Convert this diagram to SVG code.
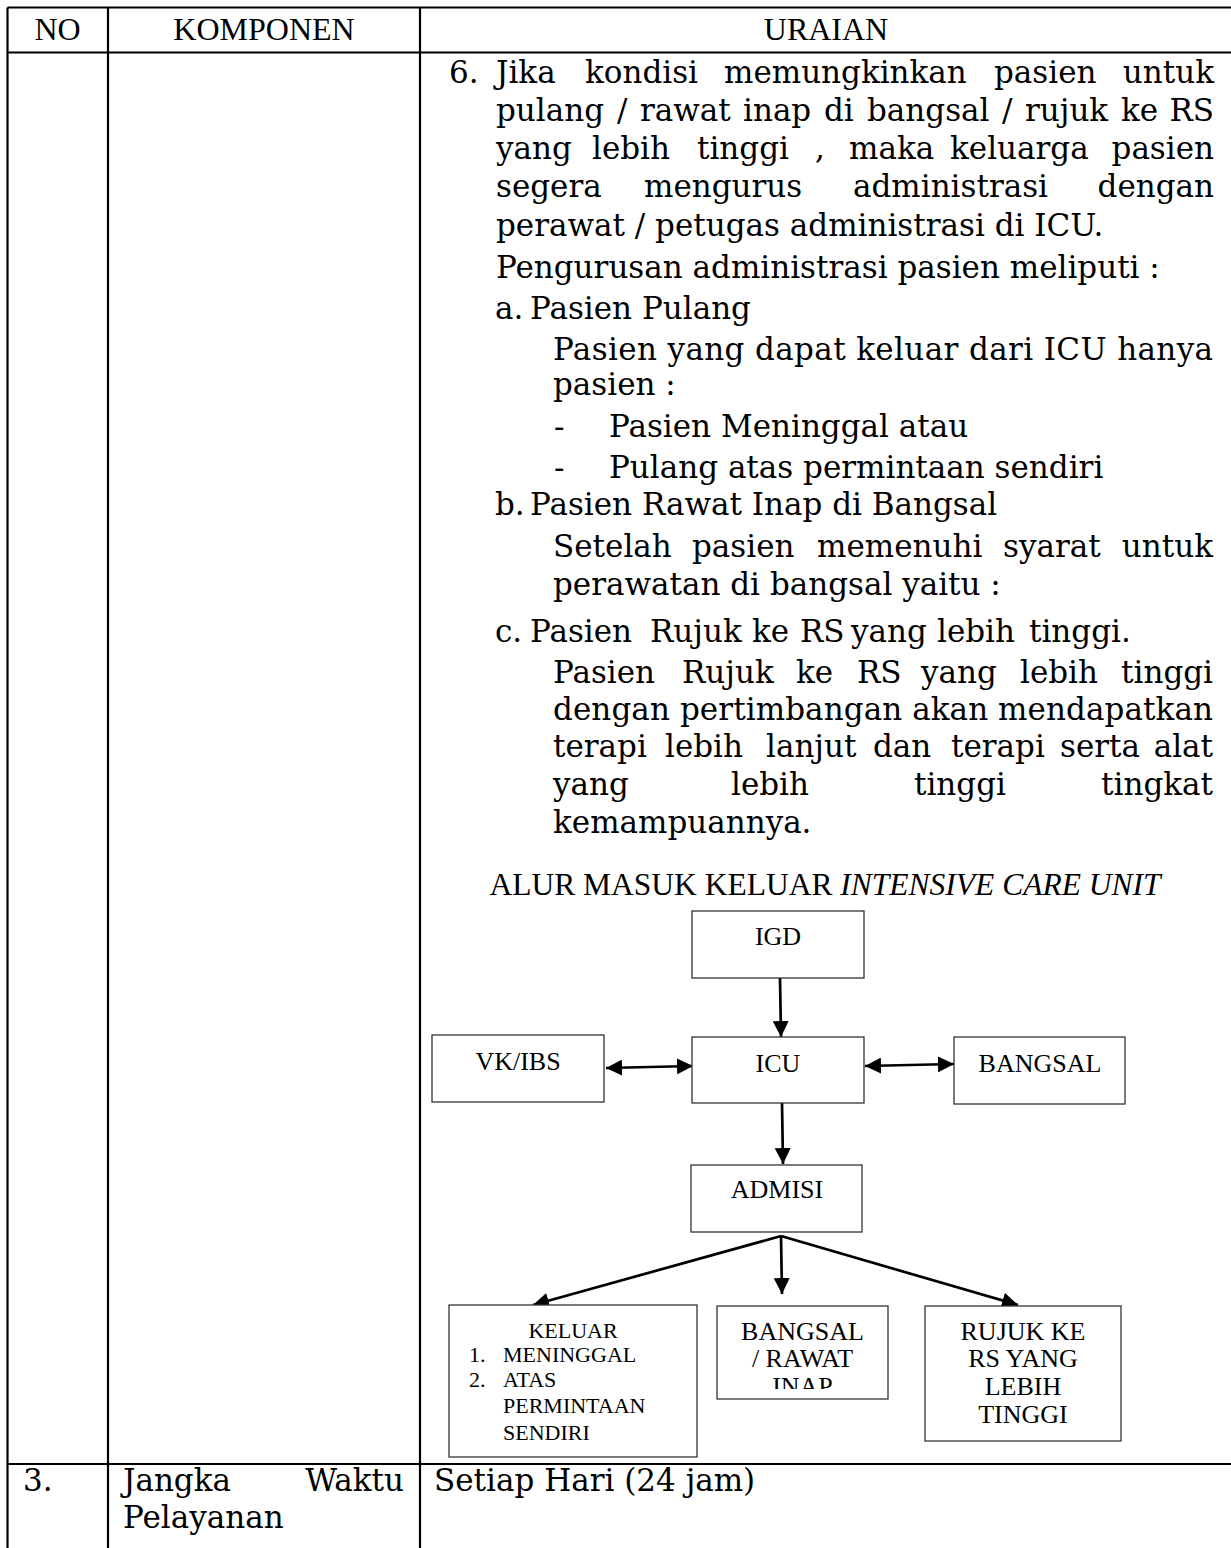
<svg xmlns="http://www.w3.org/2000/svg" width="1231" height="1548" viewBox="0 0 1231 1548">
<style>
.b{font-family:"DejaVu Serif","Liberation Serif",serif;font-size:31px;fill:#000}
.hd{font-family:"Liberation Serif",serif;font-size:32px;fill:#000;text-anchor:middle}
.tt{font-family:"Liberation Serif",serif;font-size:31.5px;fill:#000;text-anchor:middle}
.lbl{font-family:"Liberation Serif",serif;font-size:26px;fill:#000;text-anchor:middle}
.sm{font-family:"Liberation Serif",serif;font-size:22px;fill:#000}
.e{text-anchor:end}
.grid{stroke:#000;stroke-width:2.2;fill:none}
.box{fill:#fff;stroke:#333;stroke-width:1.3}
.conn{stroke:#000;stroke-width:2.7;fill:none}
</style>
<defs>
<marker id="ah" viewBox="0 0 16 16" refX="16" refY="8" markerWidth="16" markerHeight="16" markerUnits="userSpaceOnUse" orient="auto-start-reverse">
<path d="M0,0 L16,8 L0,16 z" fill="#000"/>
</marker>
<clipPath id="inapclip"><rect x="717" y="1306" width="171" height="83"/></clipPath>
</defs>
<rect width="1231" height="1548" fill="#fff"/>

<g id="table">
<line class="grid" x1="7.5" y1="7.5" x2="1231" y2="7.5"/>
<line class="grid" x1="7.5" y1="52.5" x2="1231" y2="52.5"/>
<line class="grid" x1="7.5" y1="1464" x2="1231" y2="1464"/>
<line class="grid" x1="7.5" y1="7.5" x2="7.5" y2="1548"/>
<line class="grid" x1="108" y1="7.5" x2="108" y2="1548"/>
<line class="grid" x1="420" y1="7.5" x2="420" y2="1548"/>
<text class="hd" x="57.5" y="40">NO</text>
<text class="hd" x="264" y="40">KOMPONEN</text>
<text class="hd" x="826" y="40">URAIAN</text>
</g>

<g id="uraian">
<text class="b" x="449" y="83">6.</text>
<text class="b" x="496" y="83">Jika</text>
<text class="b" x="585" y="83">kondisi</text>
<text class="b" x="724" y="83">memungkinkan</text>
<text class="b" x="994" y="83">pasien</text>
<text class="b e" x="1214" y="83">untuk</text>

<text class="b" x="496" y="121">pulang</text>
<text class="b" x="617" y="121">/</text>
<text class="b" x="640" y="121">rawat</text>
<text class="b" x="743" y="121">inap</text>
<text class="b" x="824" y="121">di</text>
<text class="b" x="867" y="121">bangsal</text>
<text class="b" x="1002" y="121">/</text>
<text class="b" x="1025" y="121">rujuk</text>
<text class="b" x="1121" y="121">ke</text>
<text class="b e" x="1214" y="121">RS</text>

<text class="b" x="496" y="159">yang</text>
<text class="b" x="592" y="159">lebih</text>
<text class="b" x="697" y="159">tinggi</text>
<text class="b" x="815" y="159">,</text>
<text class="b" x="849" y="159">maka</text>
<text class="b" x="950" y="159">keluarga</text>
<text class="b e" x="1214" y="159">pasien</text>

<text class="b" x="496" y="197">segera</text>
<text class="b" x="644" y="197">mengurus</text>
<text class="b" x="853" y="197">administrasi</text>
<text class="b e" x="1214" y="197">dengan</text>

<text class="b" x="496" y="236">perawat / petugas administrasi di ICU.</text>
<text class="b" x="496" y="278">Pengurusan administrasi pasien meliputi :</text>

<text class="b" x="495" y="319">a.</text>
<text class="b" x="530" y="319">Pasien Pulang</text>
<text class="b" x="553" y="360" textLength="660" lengthAdjust="spacing">Pasien yang dapat keluar dari ICU hanya</text>
<text class="b" x="553" y="395">pasien :</text>
<text class="b" x="554" y="437">-</text>
<text class="b" x="609" y="437">Pasien Meninggal atau</text>
<text class="b" x="554" y="478">-</text>
<text class="b" x="609" y="478">Pulang atas permintaan sendiri</text>

<text class="b" x="495" y="515">b.</text>
<text class="b" x="530" y="515">Pasien Rawat Inap di Bangsal</text>
<text class="b" x="553" y="557">Setelah</text>
<text class="b" x="692" y="557">pasien</text>
<text class="b" x="817" y="557">memenuhi</text>
<text class="b" x="1003" y="557">syarat</text>
<text class="b e" x="1213" y="557">untuk</text>
<text class="b" x="553" y="595">perawatan di bangsal yaitu :</text>

<text class="b" x="495" y="642">c.</text>
<text class="b" x="530" y="642">Pasien</text>
<text class="b" x="650" y="642">Rujuk</text>
<text class="b" x="752" y="642">ke</text>
<text class="b" x="800" y="642">RS</text>
<text class="b" x="851" y="642">yang</text>
<text class="b" x="937" y="642">lebih</text>
<text class="b" x="1029" y="642">tinggi.</text>

<text class="b" x="553" y="683">Pasien</text>
<text class="b" x="682" y="683">Rujuk</text>
<text class="b" x="796" y="683">ke</text>
<text class="b" x="857" y="683">RS</text>
<text class="b" x="921" y="683">yang</text>
<text class="b" x="1020" y="683">lebih</text>
<text class="b e" x="1213" y="683">tinggi</text>

<text class="b" x="553" y="720" textLength="660" lengthAdjust="spacing">dengan pertimbangan akan mendapatkan</text>

<text class="b" x="553" y="757">terapi</text>
<text class="b" x="665" y="757">lebih</text>
<text class="b" x="766" y="757">lanjut</text>
<text class="b" x="873" y="757">dan</text>
<text class="b" x="951" y="757">terapi</text>
<text class="b" x="1060" y="757">serta</text>
<text class="b e" x="1213" y="757">alat</text>

<text class="b" x="553" y="795">yang</text>
<text class="b" x="731" y="795">lebih</text>
<text class="b" x="914" y="795">tinggi</text>
<text class="b e" x="1213" y="795">tingkat</text>

<text class="b" x="553" y="833">kemampuannya.</text>

<text class="tt" x="825" y="895">ALUR MASUK KELUAR <tspan font-style="italic">INTENSIVE CARE UNIT</tspan></text>
</g>

<g id="connectors">
<line class="conn" x1="780" y1="978" x2="781" y2="1037" marker-end="url(#ah)"/>
<line class="conn" x1="606" y1="1068" x2="693" y2="1066" marker-start="url(#ah)" marker-end="url(#ah)"/>
<line class="conn" x1="865" y1="1066" x2="954" y2="1064" marker-start="url(#ah)" marker-end="url(#ah)"/>
<line class="conn" x1="782" y1="1103" x2="783" y2="1164" marker-end="url(#ah)"/>
<line class="conn" x1="781" y1="1236" x2="533" y2="1305" marker-end="url(#ah)"/>
<line class="conn" x1="781" y1="1236" x2="782" y2="1294" marker-end="url(#ah)"/>
<line class="conn" x1="781" y1="1236" x2="1018" y2="1305" marker-end="url(#ah)"/>
</g>

<g id="node-igd">
<rect class="box" x="692" y="911" width="172" height="67"/>
<text class="lbl" x="778" y="945">IGD</text>
</g>
<g id="node-icu">
<rect class="box" x="692" y="1037" width="172" height="66"/>
<text class="lbl" x="778" y="1072">ICU</text>
</g>
<g id="node-vkibs">
<rect class="box" x="432" y="1035" width="172" height="67"/>
<text class="lbl" x="518" y="1070">VK/IBS</text>
</g>
<g id="node-bangsal">
<rect class="box" x="954" y="1037" width="171" height="67"/>
<text class="lbl" x="1040" y="1072">BANGSAL</text>
</g>
<g id="node-admisi">
<rect class="box" x="691" y="1165" width="171" height="67"/>
<text class="lbl" x="777" y="1198">ADMISI</text>
</g>
<g id="node-keluar">
<rect class="box" x="449" y="1305" width="248" height="152"/>
<text class="sm" x="573" y="1338" text-anchor="middle">KELUAR</text>
<text class="sm" x="469" y="1362">1.</text>
<text class="sm" x="503" y="1362">MENINGGAL</text>
<text class="sm" x="469" y="1387">2.</text>
<text class="sm" x="503" y="1387">ATAS</text>
<text class="sm" x="503" y="1413">PERMINTAAN</text>
<text class="sm" x="503" y="1440">SENDIRI</text>
</g>
<g id="node-inap">
<rect class="box" x="717" y="1306" width="171" height="93"/>
<g clip-path="url(#inapclip)">
<text class="lbl" x="802.5" y="1340">BANGSAL</text>
<text class="lbl" x="802.5" y="1367">/ RAWAT</text>
<text class="lbl" x="802.5" y="1395">INAP</text>
</g>
</g>
<g id="node-rujuk">
<rect class="box" x="925" y="1306" width="196" height="135"/>
<text class="lbl" x="1023" y="1340">RUJUK KE</text>
<text class="lbl" x="1023" y="1367">RS YANG</text>
<text class="lbl" x="1023" y="1395">LEBIH</text>
<text class="lbl" x="1023" y="1423">TINGGI</text>
</g>

<g id="row3">
<text class="b" x="23" y="1491">3.</text>
<text class="b" x="123" y="1491">Jangka</text>
<text class="b e" x="404" y="1491">Waktu</text>
<text class="b" x="123" y="1528">Pelayanan</text>
<text class="b" x="434" y="1491">Setiap Hari (24 jam)</text>
</g>
</svg>
